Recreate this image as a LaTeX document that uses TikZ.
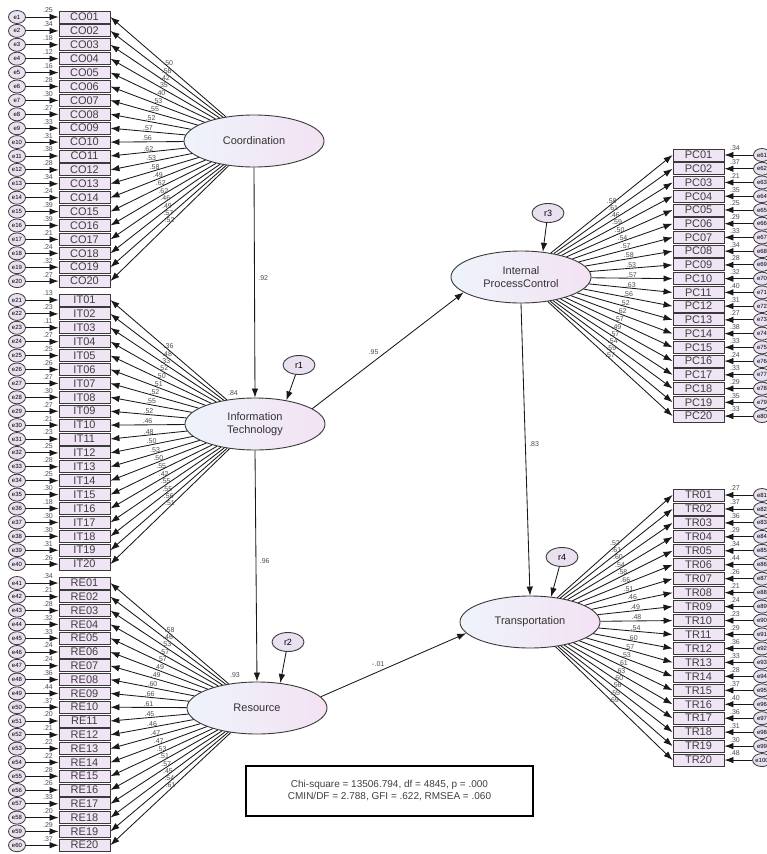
\documentclass[tikz,border=0pt]{standalone}
\usepackage{fontspec}
\setmainfont{Liberation Sans}
\usetikzlibrary{arrows.meta,shapes.geometric}
\definecolor{boxfill}{HTML}{EFE5F5}
\definecolor{errfill}{HTML}{E9E0F0}
\definecolor{latL}{HTML}{EEF3FB}
\definecolor{latR}{HTML}{F3E2F3}
\definecolor{edge}{HTML}{3A3A3A}
\tikzset{
 ind/.style={rectangle,draw=edge,line width=0.9pt,fill=boxfill,minimum width=51pt,minimum height=12pt,inner sep=0pt,font=\fontsize{11}{11}\selectfont,text=black!75},
 err/.style={ellipse,draw=edge,line width=0.8pt,fill=errfill,minimum width=17pt,minimum height=13pt,inner sep=0pt,font=\fontsize{6}{6}\selectfont},
 lat/.style={ellipse,draw=edge,line width=0.9pt,left color=latL,right color=latR,minimum width=140pt,minimum height=52pt,inner sep=0pt,align=center,font=\fontsize{11}{13}\selectfont,text=black!80},
 res/.style={ellipse,draw=edge,line width=0.9pt,fill=errfill,minimum width=32pt,minimum height=19pt,inner sep=0pt,font=\fontsize{9}{9}\selectfont},
 arr/.style={draw=black!90,line width=0.85pt,-{Latex[length=9pt,width=6.5pt]}},
 lab/.style={font=\fontsize{7}{7}\selectfont,inner sep=0.5pt,text=black!70},
 fitbox/.style={rectangle,draw=black,line width=1.6pt,minimum width=287pt,minimum height=50pt,align=center,font=\fontsize{10}{12}\selectfont,text=black!75}
}
\newcommand{\LeftBlock}[6]{%
 \foreach \rr/\ll [count=\i] in {#6}{%
  \pgfmathsetmacro{\yy}{#3+(\i-1)*#4}%
  \pgfmathtruncatemacro{\ee}{#5+\i}%
  \ifnum\i<10\relax\edef\nn{0\i}\else\edef\nn{\i}\fi
  \node[ind] (#1\i) at (84.5,\yy) {#2\nn};
  \node[err] (e\ee) at (17,\yy) {e\ee};
  \draw[arr] (e\ee) -- (#1\i.west);
  \node[lab] at (48,\yy-6.5) {.\rr};
  \draw[arr] (#1lat) -- node[lab,pos=0.5,above]{.\ll} (#1\i.east);
 }}
\newcommand{\RightBlock}[6]{%
 \foreach \rr/\ll [count=\i] in {#6}{%
  \pgfmathsetmacro{\yy}{#3+(\i-1)*#4}%
  \pgfmathtruncatemacro{\ee}{#5+\i}%
  \ifnum\i<10\relax\edef\nn{0\i}\else\edef\nn{\i}\fi
  \node[ind] (#1\i) at (698.5,\yy) {#2\nn};
  \node[err] (e\ee) at (762,\yy) {e\ee};
  \draw[arr] (e\ee) -- (#1\i.east);
  \node[lab] at (735,\yy-6.5) {.\rr};
  \draw[arr] (#1lat) -- node[lab,pos=0.5,above]{.\ll} (#1\i.west);
 }}
\begin{document}
\begin{tikzpicture}[x=1pt,y=-1pt]
\useasboundingbox (0,0) rectangle (767,854);
\clip (0,0) rectangle (767,854);
\fill[white] (0,0) rectangle (767,854);
% latent variables
\node[lat] (colat) at (254,141) {Coordination};
\node[lat] (itlat) at (255,424) {Information\\Technology};
\node[lat] (relat) at (257,708) {Resource};
\node[lat] (pclat) at (521,277) {Internal\\ProcessControl};
\node[lat] (trlat) at (530,622) {Transportation};
% residuals
\node[res] (r1) at (299,365) {r1};
\node[res] (r2) at (288,642) {r2};
\node[res] (r3) at (548,213) {r3};
\node[res] (r4) at (562,557) {r4};
\draw[arr] (r1) -- (itlat.37);
\draw[arr] (r2) -- (relat.47);
\draw[arr] (r3) -- (pclat.49);
\draw[arr] (r4) -- (trlat.50);
% structural paths
\draw[arr] (colat.south) -- node[lab,pos=0.48,right=3pt]{.92} (itlat.north);
\draw[arr] (itlat.south) -- node[lab,pos=0.48,right=3pt]{.96} (relat.north);
\draw[arr] (pclat.south) -- node[lab,pos=0.48,right=3pt]{.83} (trlat.north);
\draw[arr] (itlat.15) -- node[lab,pos=0.45,above left=1pt]{.95} (pclat.195);
\draw[arr] (relat.10) -- node[lab,pos=0.45,above left=1pt]{-.01} (trlat.190);
\node[lab] at (233,393) {.84};
\node[lab] at (235,675) {.93};
% measurement blocks
\LeftBlock{co}{CO}{17}{13.9}{0}{25/50,34/58,18/42,12/35,16/40,28/53,30/55,27/52,33/57,31/56,38/62,28/53,34/58,24/49,39/62,39/62,21/46,24/49,32/57,27/52}
\LeftBlock{it}{IT}{300}{13.9}{20}{13/36,23/48,11/33,27/52,25/50,26/51,27/52,30/55,27/52,21/46,23/48,25/50,28/53,25/50,30/55,18/42,30/55,30/55,31/56,26/51}
\LeftBlock{re}{RE}{583}{13.8}{40}{34/58,21/46,28/53,32/57,33/57,24/49,24/49,36/60,44/66,37/61,20/45,21/46,22/47,22/47,28/53,26/51,33/57,20/45,29/54,37/61}
\RightBlock{pc}{PC}{155}{13.74}{60}{34/58,37/61,21/46,35/59,25/50,29/54,33/57,34/58,28/53,32/57,40/63,31/56,27/52,38/62,33/57,24/49,33/57,29/54,35/59,33/57}
\RightBlock{tr}{TR}{495}{13.95}{80}{27/52,37/61,36/60,29/54,34/58,44/66,26/51,21/46,24/49,23/48,29/54,36/60,33/57,28/53,37/61,40/63,36/60,31/56,30/55,48/69}
% fit indices
\node[fitbox] (fit) at (389.5,791) {Chi-square = 13506.794, df = 4845, p = .000\\CMIN/DF = 2.788, GFI = .622, RMSEA = .060};
\end{tikzpicture}
\end{document}
